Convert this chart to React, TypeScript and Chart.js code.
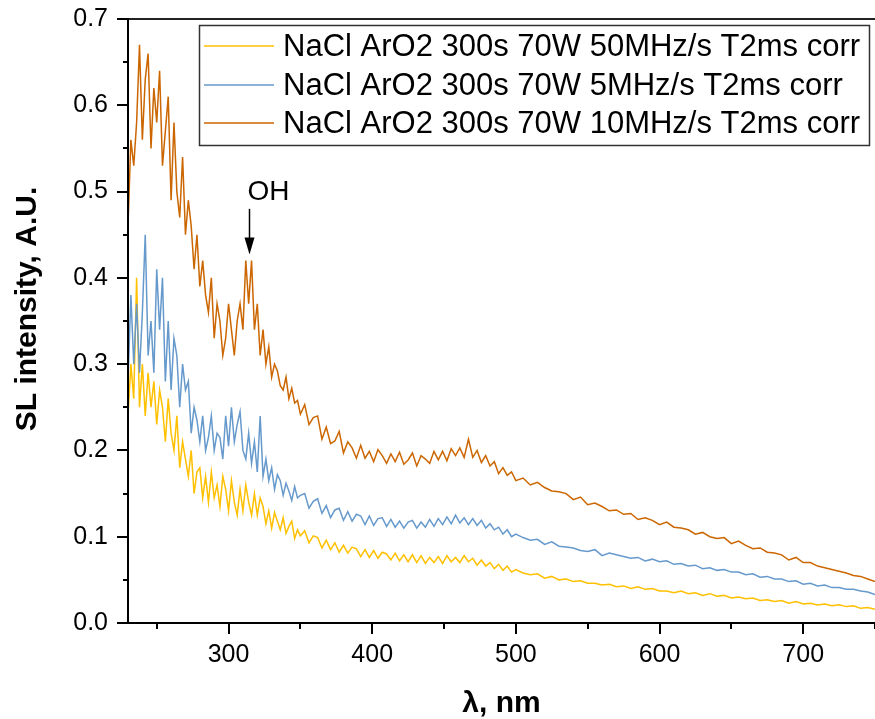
import React, { useEffect, useRef } from 'react';
import { Chart, registerables } from 'chart.js';

Chart.register(...registerables);

// Wavelength grid (nm)
const wavelengths = [
  230, 232, 234, 236, 238, 240, 242, 244, 246, 248,
  250, 252, 254, 256, 258, 260, 262, 264, 266, 268,
  270, 272, 274, 276, 278, 280, 282, 284, 286, 288,
  290, 292, 294, 296, 298, 300, 302, 304, 306, 308,
  310, 312, 314, 316, 318, 320, 322, 324, 326, 328,
  330, 332, 334, 336, 338, 340, 342, 344, 346, 348,
  350,
  353, 356, 359, 362, 365, 368, 371, 374, 377, 380,
  383, 386, 389, 392, 395, 398, 401, 404, 407, 410,
  413, 416, 419, 422, 425, 428, 431, 434, 437, 440,
  443, 446, 449, 452, 455, 458, 461, 464, 467, 470,
  473, 476, 479, 482, 485, 488, 491, 494, 497, 500,
  505, 510, 515, 520, 525, 530, 535, 540, 545, 550,
  555, 560, 565, 570, 575, 580, 585, 590, 595, 600,
  605, 610, 615, 620, 625, 630, 635, 640, 645, 650,
  655, 660, 665, 670, 675, 680, 685, 690, 695, 700,
  705, 710, 715, 720, 725, 730, 735, 740, 745, 750,
];

// NaCl ArO2 300s 70W 50MHz/s
const series50MHz = [
  0.24, 0.30, 0.26, 0.40, 0.25, 0.30, 0.24, 0.29, 0.25, 0.28,
  0.23, 0.27, 0.25, 0.21, 0.26, 0.22, 0.20, 0.24, 0.18, 0.21,
  0.19, 0.17, 0.20, 0.15, 0.175, 0.18, 0.145, 0.17, 0.14, 0.175,
  0.145, 0.16, 0.135, 0.17, 0.155, 0.13, 0.165, 0.14, 0.125, 0.155,
  0.13, 0.16, 0.14, 0.125, 0.15, 0.125, 0.145, 0.135, 0.115, 0.13,
  0.11, 0.128, 0.118, 0.108, 0.122, 0.104, 0.112, 0.118, 0.098, 0.108,
  0.101,
  0.107, 0.093, 0.101, 0.099, 0.087, 0.096, 0.085, 0.093, 0.082, 0.090,
  0.081, 0.088, 0.086, 0.077, 0.085, 0.076, 0.084, 0.075, 0.082, 0.080,
  0.073, 0.081, 0.072, 0.079, 0.071, 0.079, 0.070, 0.078, 0.069, 0.076,
  0.070, 0.077, 0.069, 0.078, 0.071, 0.076, 0.070, 0.078, 0.071, 0.075,
  0.067, 0.073, 0.066, 0.070, 0.063, 0.068, 0.061, 0.066, 0.059, 0.062,
  0.058, 0.056, 0.057, 0.052, 0.054, 0.050, 0.051, 0.048, 0.049, 0.046,
  0.046, 0.044, 0.045, 0.042, 0.043, 0.040, 0.042, 0.039, 0.040, 0.037,
  0.037, 0.035, 0.037, 0.034, 0.035, 0.032, 0.034, 0.031, 0.032, 0.029,
  0.030, 0.028, 0.029, 0.026, 0.027, 0.025, 0.026, 0.023, 0.025, 0.022,
  0.023, 0.021, 0.022, 0.020, 0.021, 0.019, 0.020, 0.017, 0.018, 0.016,
];

// NaCl ArO2 300s 70W 5MHz/s
const series5MHz = [
  0.28, 0.38, 0.30, 0.37, 0.29, 0.36, 0.45, 0.31, 0.35, 0.29,
  0.41, 0.34, 0.40, 0.28, 0.35, 0.27, 0.33, 0.31, 0.25, 0.30,
  0.27, 0.28, 0.22, 0.25, 0.235, 0.21, 0.24, 0.20, 0.215, 0.24,
  0.20, 0.22, 0.215, 0.19, 0.24, 0.205, 0.25, 0.21, 0.23, 0.245,
  0.20, 0.19, 0.22, 0.185, 0.21, 0.175, 0.24, 0.17, 0.19, 0.165,
  0.18, 0.155, 0.172, 0.165, 0.148, 0.162, 0.153, 0.142, 0.158, 0.145,
  0.148,
  0.150, 0.133, 0.141, 0.144, 0.127, 0.136, 0.122, 0.131, 0.133, 0.119,
  0.129, 0.118, 0.126, 0.124, 0.114, 0.124, 0.113, 0.121, 0.122, 0.112,
  0.120, 0.111, 0.118, 0.110, 0.117, 0.119, 0.110, 0.117, 0.111, 0.120,
  0.112, 0.121, 0.114, 0.123, 0.115, 0.125, 0.116, 0.122, 0.114, 0.121,
  0.113, 0.119, 0.110, 0.115, 0.108, 0.111, 0.103, 0.108, 0.100, 0.103,
  0.099, 0.096, 0.097, 0.091, 0.094, 0.089, 0.088, 0.087, 0.084, 0.083,
  0.085, 0.078, 0.081, 0.079, 0.077, 0.075, 0.076, 0.072, 0.074, 0.071,
  0.072, 0.068, 0.069, 0.066, 0.067, 0.063, 0.064, 0.061, 0.062, 0.059,
  0.059, 0.056, 0.057, 0.053, 0.054, 0.051, 0.051, 0.048, 0.049, 0.045,
  0.046, 0.043, 0.044, 0.041, 0.041, 0.039, 0.039, 0.037, 0.036, 0.033,
];

// NaCl ArO2 300s 70W 10MHz/s
const series10MHz = [
  0.46, 0.56, 0.53, 0.58, 0.67, 0.56, 0.63, 0.66, 0.55, 0.62,
  0.58, 0.64, 0.53, 0.57, 0.61, 0.49, 0.58, 0.50, 0.47, 0.54,
  0.45, 0.49, 0.46, 0.41, 0.45, 0.39, 0.42, 0.38, 0.36, 0.40,
  0.33, 0.37, 0.35, 0.31, 0.33, 0.37, 0.34, 0.31, 0.35, 0.37,
  0.34, 0.42, 0.37, 0.42, 0.34, 0.37, 0.31, 0.34, 0.30, 0.32,
  0.285, 0.30, 0.292, 0.275, 0.27, 0.285, 0.26, 0.272, 0.255, 0.258,
  0.242,
  0.253, 0.230, 0.238, 0.240, 0.213, 0.227, 0.208, 0.211, 0.222, 0.197,
  0.210, 0.203, 0.191, 0.206, 0.191, 0.199, 0.187, 0.201, 0.194, 0.185,
  0.196, 0.187, 0.198, 0.184, 0.189, 0.197, 0.182, 0.194, 0.190, 0.185,
  0.199, 0.189, 0.199, 0.188, 0.202, 0.194, 0.203, 0.192, 0.213, 0.192,
  0.200, 0.186, 0.194, 0.182, 0.187, 0.173, 0.180, 0.171, 0.175, 0.165,
  0.168, 0.160, 0.163, 0.157, 0.153, 0.152, 0.150, 0.143, 0.146, 0.137,
  0.139, 0.135, 0.130, 0.131, 0.126, 0.127, 0.120, 0.122, 0.119, 0.114,
  0.117, 0.111, 0.110, 0.108, 0.103, 0.105, 0.100, 0.098, 0.099, 0.092,
  0.095, 0.090, 0.086, 0.087, 0.082, 0.081, 0.079, 0.073, 0.076, 0.070,
  0.070, 0.066, 0.064, 0.062, 0.060, 0.058, 0.055, 0.054, 0.051, 0.048,
];

const seriesLabels = [
  'NaCl ArO2 300s 70W 50MHz/s T2ms corr',
  'NaCl ArO2 300s 70W 5MHz/s T2ms corr',
  'NaCl ArO2 300s 70W 10MHz/s T2ms corr',
];
const seriesColors = ['#FFC000', '#6699CC', '#CC6600'];

const xMajorTicks = [300, 400, 500, 600, 700];
const xMinorTicks = [250, 350, 450, 550, 650, 750];
const yMajorTicks = [0, 0.1, 0.2, 0.3, 0.4, 0.5, 0.6, 0.7];
const yMinorTicks = [0.05, 0.15, 0.25, 0.35, 0.45, 0.55, 0.65];

const xTitle = 'λ, nm';
const yTitle = 'SL intensity, A.U.';
const annotationText = 'OH';
const annotationWavelength = 314;
const annotationFrom = 0.48;
const annotationTo = 0.427;

const FONT = "'Liberation Sans', Arial, Helvetica, sans-serif";

const decorPlugin = {
  id: 'decor',
  afterDraw(chart: any) {
    const { ctx, chartArea: a, scales } = chart;
    const x = scales.x;
    const y = scales.y;
    ctx.save();
    // top frame line
    ctx.strokeStyle = '#222';
    ctx.lineWidth = 2;
    ctx.beginPath();
    ctx.moveTo(a.left - 1, a.top);
    ctx.lineTo(a.right, a.top);
    ctx.stroke();
    // axes
    ctx.strokeStyle = '#000';
    ctx.beginPath();
    ctx.moveTo(a.left, a.top - 1);
    ctx.lineTo(a.left, a.bottom + 1);
    ctx.moveTo(a.left - 1, a.bottom);
    ctx.lineTo(a.right, a.bottom);
    // ticks
    for (const v of xMajorTicks) {
      const p = Math.round(x.getPixelForValue(v));
      ctx.moveTo(p, a.bottom);
      ctx.lineTo(p, a.bottom + 11);
    }
    for (const v of xMinorTicks) {
      const p = Math.round(x.getPixelForValue(v));
      ctx.moveTo(p, a.bottom);
      ctx.lineTo(p, a.bottom + 6);
    }
    for (const v of yMajorTicks) {
      const p = Math.round(y.getPixelForValue(v));
      ctx.moveTo(a.left, p);
      ctx.lineTo(a.left - 11, p);
    }
    for (const v of yMinorTicks) {
      const p = Math.round(y.getPixelForValue(v));
      ctx.moveTo(a.left, p);
      ctx.lineTo(a.left - 5, p);
    }
    ctx.stroke();

    // axis titles
    ctx.fillStyle = '#000';
    ctx.font = `bold 30px ${FONT}`;
    ctx.textAlign = 'center';
    ctx.textBaseline = 'middle';
    ctx.fillText(xTitle, (a.left + a.right) / 2, 704);
    ctx.save();
    ctx.translate(28, 309);
    ctx.rotate(-Math.PI / 2);
    ctx.fillText(yTitle, 0, 0);
    ctx.restore();

    // OH annotation
    const ax = Math.round(x.getPixelForValue(annotationWavelength)) + 0.5;
    const y0 = y.getPixelForValue(annotationFrom);
    const y1 = y.getPixelForValue(annotationTo);
    ctx.strokeStyle = '#000';
    ctx.lineWidth = 1.5;
    ctx.beginPath();
    ctx.moveTo(ax, y0);
    ctx.lineTo(ax, y1 - 14);
    ctx.stroke();
    ctx.beginPath();
    ctx.moveTo(ax - 5, y1 - 17);
    ctx.lineTo(ax + 5, y1 - 17);
    ctx.lineTo(ax, y1);
    ctx.closePath();
    ctx.fill();
    ctx.font = `28px ${FONT}`;
    ctx.textAlign = 'left';
    ctx.textBaseline = 'alphabetic';
    ctx.fillText(annotationText, ax - 2, y0 - 9);

    // legend
    const lx = 199.5, ly = 25.5, lw = 670, lh = 120;
    ctx.fillStyle = '#fff';
    ctx.fillRect(lx, ly, lw, lh);
    ctx.strokeStyle = '#333';
    ctx.lineWidth = 1.5;
    ctx.strokeRect(lx, ly, lw, lh);
    const rows = [46, 85, 123];
    ctx.font = `31px ${FONT}`;
    ctx.textAlign = 'left';
    ctx.textBaseline = 'middle';
    seriesLabels.forEach((label, i) => {
      ctx.strokeStyle = seriesColors[i];
      ctx.lineWidth = 1.5;
      ctx.beginPath();
      ctx.moveTo(204, rows[i]);
      ctx.lineTo(274, rows[i]);
      ctx.stroke();
      ctx.fillStyle = '#000';
      ctx.fillText(label, 283, rows[i] + 1);
    });
    ctx.restore();
  },
};

export default function App() {
  const canvasRef = useRef<HTMLCanvasElement | null>(null);

  useEffect(() => {
    const canvas = canvasRef.current;
    if (!canvas) return;
    const seriesValues = [series50MHz, series5MHz, series10MHz];
    const hiddenGrid = {
      display: true,
      drawOnChartArea: false,
      drawTicks: true,
      color: 'rgba(0,0,0,0)',
    };
    const chart = new Chart(canvas, {
      type: 'line',
      data: {
        datasets: seriesValues.map((vals, i) => ({
          label: seriesLabels[i],
          data: wavelengths.map((w, j) => ({ x: w, y: vals[j] })),
          borderColor: seriesColors[i],
          backgroundColor: seriesColors[i],
          borderWidth: 1.5,
          pointRadius: 0,
          tension: 0,
          fill: false,
          order: 2 - i,
        })),
      },
      options: {
        responsive: false,
        animation: false,
        devicePixelRatio: 1,
        layout: { padding: { top: 19, right: 0, left: 0, bottom: 0 } },
        plugins: {
          legend: { display: false },
          tooltip: { enabled: false },
        },
        scales: {
          x: {
            type: 'linear',
            min: 230,
            max: 750,
            grid: { ...hiddenGrid, tickLength: 8 },
            border: { display: false },
            afterBuildTicks: (scale: any) => {
              scale.ticks = xMajorTicks.map((v) => ({ value: v }));
            },
            afterFit: (scale: any) => {
              scale.height = 96;
            },
            ticks: {
              autoSkip: false,
              maxRotation: 0,
              padding: 9,
              color: '#000',
              font: { family: FONT, size: 25 },
              callback: (v: any) => String(v),
            },
          },
          y: {
            type: 'linear',
            min: 0,
            max: 0.7,
            grid: { ...hiddenGrid, tickLength: 20 },
            border: { display: false },
            afterBuildTicks: (scale: any) => {
              scale.ticks = yMajorTicks.map((v) => ({ value: v }));
            },
            afterFit: (scale: any) => {
              scale.width = 128;
            },
            ticks: {
              autoSkip: false,
              padding: 0,
              color: '#000',
              font: { family: FONT, size: 25 },
              callback: (v: any) => Number(v).toFixed(1),
            },
          },
        },
      },
      plugins: [decorPlugin],
    });
    return () => chart.destroy();
  }, []);

  return (
    <div style={{ position: 'fixed', left: 0, top: 0, width: 875, height: 719, background: '#fff' }}>
      <canvas ref={canvasRef} width={875} height={719} style={{ display: 'block' }} />
    </div>
  );
}
